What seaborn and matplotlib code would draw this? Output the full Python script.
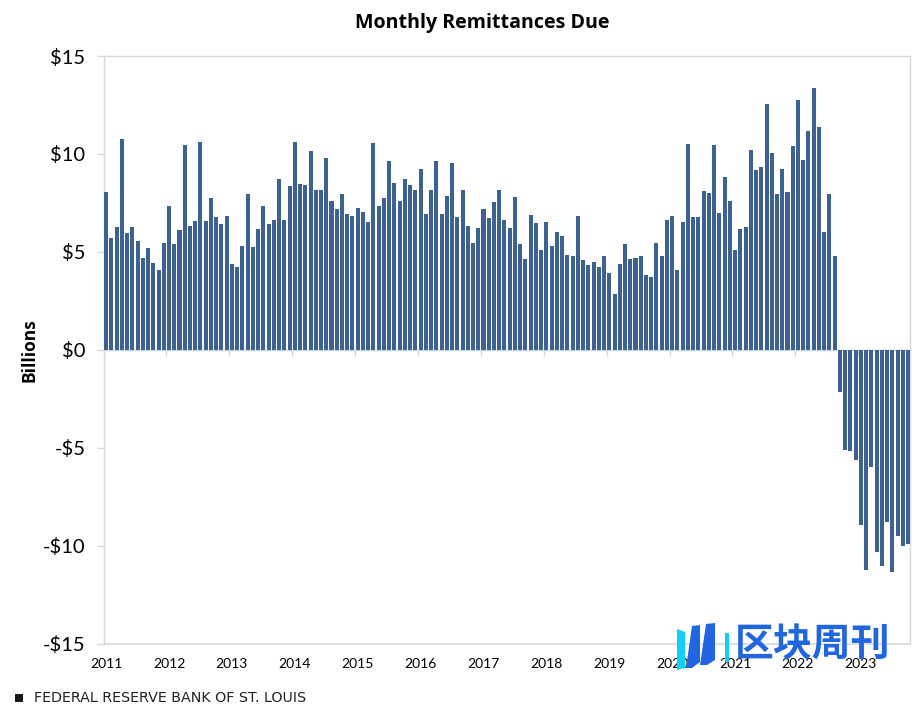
import matplotlib
matplotlib.use("Agg")
import matplotlib.pyplot as plt
from matplotlib.patches import Polygon, Rectangle
import pandas as pd
import seaborn as sns

values = [
    8.06, 5.71, 6.28, 10.77, 5.97, 6.28, 5.56, 4.69, 5.20, 4.44, 4.08, 5.46,
    7.35, 5.41, 6.12, 10.46, 6.33, 6.58, 10.61, 6.58, 7.76, 6.79, 6.43, 6.84,
    4.39, 4.23, 5.31, 7.96, 5.26, 6.17, 7.35, 6.43, 6.63, 8.72, 6.63, 8.37,
    10.61, 8.47, 8.42, 10.15, 8.16, 8.16, 9.80, 7.60, 7.19, 7.96, 6.94, 6.84,
    7.24, 7.04, 6.53, 10.56, 7.35, 7.76, 9.64, 8.52, 7.60, 8.72, 8.42, 8.16,
    9.23, 6.94, 8.16, 9.64, 6.94, 7.86, 9.54, 6.79, 8.16, 6.33, 5.46, 6.22,
    7.19, 6.73, 7.55, 8.16, 6.63, 6.22, 7.81, 5.41, 4.64, 6.89, 6.48, 5.10,
    6.53, 5.31, 6.02, 5.82, 4.85, 4.80, 6.84, 4.59, 4.34, 4.49, 4.23, 4.80,
    3.93, 2.86, 4.39, 5.41, 4.64, 4.69, 4.80, 3.83, 3.72, 5.46, 4.80, 6.63,
    6.84, 4.08, 6.53, 10.51, 6.79, 6.79, 8.11, 8.01, 10.46, 6.99, 8.83, 7.60,
    5.10, 6.17, 6.28, 10.20, 9.18, 9.34, 12.55, 10.05, 7.96, 9.23, 8.06, 10.41,
    12.76, 9.69, 11.17, 13.37, 11.38, 6.02, 7.96, 4.80,
    -2.18, -5.10, -5.19, -5.65, -8.96, -11.26, -6.00, -10.34, -11.05, -8.81,
    -11.36, -9.52, -10.03, -9.93,
]
years = [str(y) for y in range(2011, 2024)]
y_ticks = [-15, -10, -5, 0, 5, 10, 15]
y_labels = ["-$15", "-$10", "-$5", "$0", "$5", "$10", "$15"]
title = "Monthly Remittances Due"
y_title = "Billions"
source = "FEDERAL RESERVE BANK OF ST. LOUIS"
watermark = "区块周刊"

months = pd.date_range("2011-01-01", periods=len(values), freq="MS").strftime("%Y-%m").tolist()
frame = pd.DataFrame({"month": months, "value": values})

W, H = 921, 709
BAR = "#3b6291"
LINE = "#d9d9d9"
AXIS = "#ccd6eb"
BLUE = "#1f66e0"
CYAN = "#10d0fb"

sns.set_theme(style="white")
plt.rcParams["font.family"] = ["Lato", "DejaVu Sans"]

fig = plt.figure(figsize=(W / 100, H / 100), dpi=100, facecolor="white")
ax = fig.add_axes([103.5 / W, 1 - 643.5 / H, (910.3 - 103.5) / W, (643.5 - 56) / H])

sns.barplot(data=frame, x="month", y="value", color=BAR, saturation=1, width=0.77,
            linewidth=0, ax=ax, zorder=3)

ax.set_xlim(-0.48, 153.43)
ax.set_ylim(-15, 15)
ax.set_xlabel("")
ax.set_ylabel(y_title, fontsize=12.5, fontweight="bold", color="black", labelpad=0,
              family=["Open Sans", "DejaVu Sans"])
ax.yaxis.set_label_coords((38 - 103.5) / (910.3 - 103.5), 0.5)

ax.set_yticks(y_ticks, y_labels, fontsize=14.5, color="black")
ax.tick_params(axis="y", length=5, width=1, color=LINE, pad=8, left=True)

for s in ["top", "right", "left"]:
    ax.spines[s].set_color(LINE)
    ax.spines[s].set_linewidth(1)
ax.spines["bottom"].set_position(("data", 0))
ax.spines["bottom"].set_color(AXIS)
ax.spines["bottom"].set_linewidth(1)
ax.spines["bottom"].set_zorder(2)

tick_idx = [12 * i for i in range(len(years))]
ax.set_xticks([i - 0.5 for i in tick_idx], [""] * len(years))
ax.tick_params(axis="x", length=4, width=1, color=LINE, bottom=True)
ax.axhline(-15, color=LINE, lw=1.2, clip_on=False, zorder=1)

sec = ax.secondary_xaxis("bottom")
sec.set_xticks(tick_idx, years, fontsize=10, color="black")
sec.tick_params(axis="x", length=0, pad=10.5)
sec.spines["bottom"].set_visible(False)

fig.text(482 / W, 1 - 23 / H, title, ha="center", va="center", fontsize=14.1,
         fontweight="bold", color="black", family=["Open Sans", "DejaVu Sans"])

fig.patches.append(Rectangle((15 / W, 1 - 702 / H), 8 / W, 8 / H, transform=fig.transFigure,
                             facecolor="#1a1a1a", edgecolor="none"))
fig.text(34 / W, 1 - 697.5 / H, source, ha="left", va="center", fontsize=10.3,
         color="#222222", family=["DejaVu Sans"])


def px_poly(points, colour):
    pts = [(x / W, 1 - y / H) for x, y in points]
    fig.patches.append(Polygon(pts, closed=True, transform=fig.transFigure,
                               facecolor=colour, edgecolor="none", zorder=10))


px_poly([(677, 629), (685, 632), (685, 668), (677, 670)], CYAN)
px_poly([(692, 626), (700, 625), (700, 662), (692, 668), (686, 668)], BLUE)
px_poly([(706, 624), (715, 623), (715, 660), (707, 665), (700, 665)], BLUE)
px_poly([(725, 633), (729, 633), (729, 662), (725, 662)], CYAN)
fig.text(812.5 / W, 1 - 645 / H, watermark, ha="center", va="center", fontsize=28,
         fontweight="bold", color=BLUE, family=["Noto Sans CJK SC", "DejaVu Sans"], zorder=10)

fig.savefig("out.png", dpi=100, facecolor="white")
